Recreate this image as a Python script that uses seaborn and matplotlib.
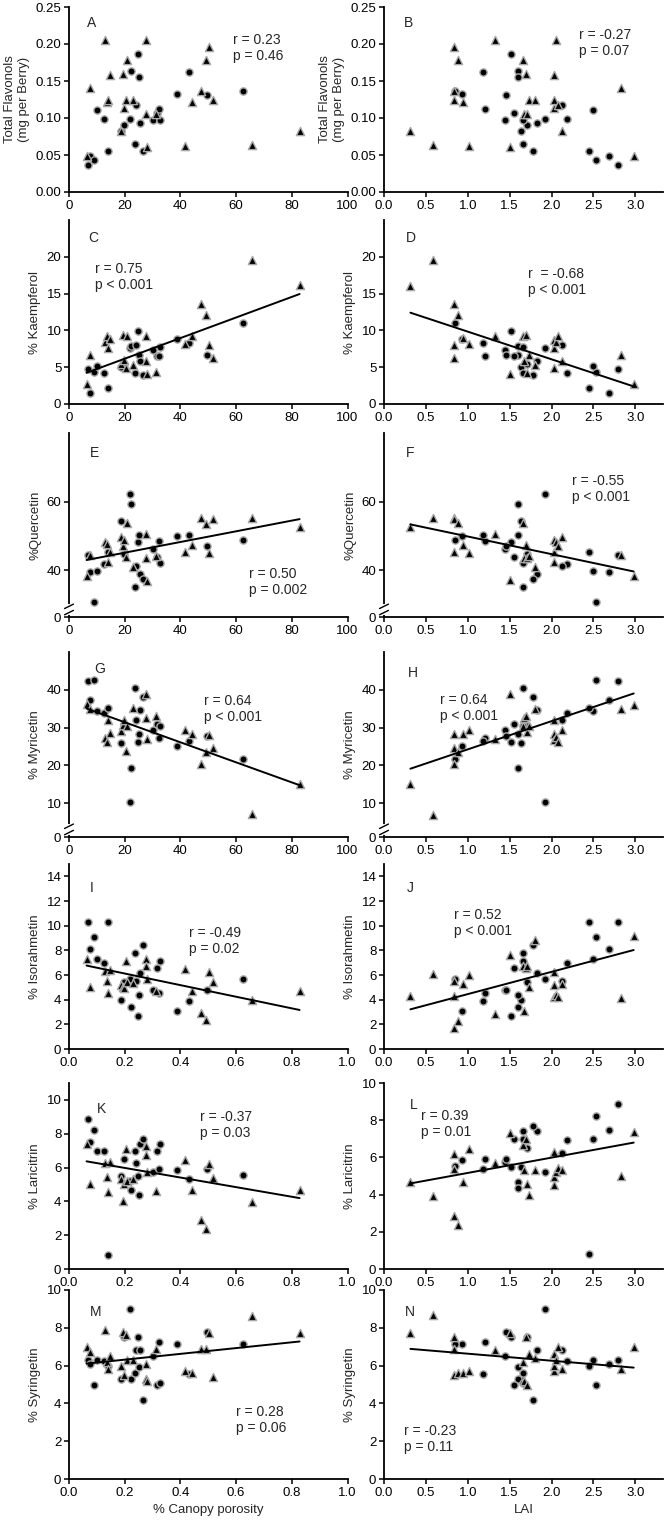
import numpy as np
import pandas as pd
import seaborn as sns
import matplotlib.pyplot as plt
from matplotlib.ticker import FormatStrFormatter

# ---- filled circles: one vine per position, same order in every array
por_circ = [6.9, 7.5, 9.0, 9.9, 12.6, 13.9, 18.6, 19.8, 21.9, 22.2, 23.6, 24.2,
            24.6, 25.0, 25.5, 26.5, 30.2, 31.7, 32.3, 32.5, 38.6, 43.0, 49.5, 62.5]
lai_circ = [2.79, 2.69, 2.535, 2.496, 2.19, 2.45, 1.634, 1.705, 1.92, 1.598, 1.661, 2.126,
            1.512, 1.598, 1.83, 1.78, 1.445, 1.555, 1.209, 1.661, 0.925, 1.177, 1.461, 0.843]
flav_circ = [0.037, 0.048, 0.043, 0.111, 0.099, 0.055, 0.082, 0.091, 0.099, 0.163, 0.065, 0.118,
             0.186, 0.156, 0.093, 0.055, 0.097, 0.107, 0.112, 0.097, 0.133, 0.162, 0.131, 0.136]
kaem_circ = [4.7, 1.5, 4.3, 5.2, 4.2, 2.2, 5.0, 5.4, 7.6, 7.9, 4.2, 8.0,
             9.9, 6.7, 5.9, 4.0, 7.4, 6.5, 6.5, 7.8, 8.8, 8.3, 6.7, 11.0]
quer_circ = [44.5, 39.4, 30.9, 39.8, 41.7, 45.4, 54.4, 44.8, 62.3, 59.3, 35.0, 41.3,
             48.3, 50.4, 39.0, 37.6, 46.3, 44.0, 48.5, 42.1, 50.0, 50.4, 47.1, 48.9]
myr_circ = [42.2, 37.4, 42.6, 34.4, 33.9, 35.3, 25.8, 30.4, 10.2, 19.4, 40.4, 32.1,
            26.1, 28.2, 34.7, 38.1, 29.3, 30.9, 27.3, 30.5, 25.1, 26.5, 27.7, 21.7]
iso_circ = [10.3, 8.1, 9.05, 7.3, 7.0, 10.3, 4.0, 5.4, 5.7, 3.4, 7.8, 5.5,
            2.7, 4.4, 6.2, 8.4, 4.75, 6.6, 4.55, 7.1, 3.1, 3.9, 4.8, 5.7]
lar_circ = [8.85, 7.5, 8.2, 7.0, 6.95, 0.8, 5.5, 6.5, 5.2, 4.7, 7.0, 6.25,
            5.5, 4.35, 7.4, 7.7, 5.75, 7.0, 5.9, 7.4, 5.85, 5.35, 5.9, 5.55]
syr_circ = [6.3, 6.1, 5.0, 6.3, 6.25, 6.0, 5.3, 7.5, 9.0, 5.3, 5.6, 6.85,
            7.5, 5.95, 6.8, 4.2, 6.5, 5.0, 7.25, 5.1, 7.15, 5.55, 7.8, 7.15]

# ---- triangles (left column)
por_tri = [6.3, 7.6, 13.1, 13.5, 14.1, 14.7, 18.6, 19.3, 19.8, 20.5, 20.7, 22.9,
           27.5, 27.5, 27.9, 31.1, 41.6, 44.2, 47.4, 49.1, 50.4, 51.6, 65.6, 82.8]
flav_tri_por = [0.048, 0.141, 0.206, 0.121, 0.124, 0.158, 0.083, 0.160, 0.114, 0.124, 0.179, 0.124,
                0.205, 0.106, 0.061, 0.106, 0.062, 0.122, 0.136, 0.179, 0.196, 0.124, 0.064, 0.083]
kaem_tri_por = [2.7, 6.7, 8.4, 9.3, 7.6, 8.85, 5.4, 9.4, 6.0, 4.9, 9.2, 5.3,
                9.3, 5.8, 4.1, 4.3, 8.2, 9.2, 13.6, 12.1, 8.0, 6.2, 19.6, 16.2]
quer_tri_por = [38.4, 44.6, 48.2, 47.8, 42.4, 45.3, 49.6, 47.2, 48.8, 43.8, 53.9, 41.0,
                50.6, 43.6, 36.9, 44.2, 45.3, 47.5, 55.2, 53.5, 45.1, 54.9, 55.2, 52.7]
myr_tri_por = [36.1, 34.8, 27.1, 26.2, 31.9, 28.6, 29.1, 30.6, 31.9, 23.8, 30.4, 35.2,
               38.9, 32.6, 26.9, 33.0, 29.3, 28.2, 20.3, 23.6, 28.0, 24.5, 7.2, 15.1]
iso_tri_por = [7.3, 5.0, 6.3, 5.5, 4.54, 6.43, 5.2, 5.0, 4.95, 7.1, 5.4, 5.35,
               7.3, 6.7, 5.7, 4.7, 6.5, 4.68, 2.92, 2.38, 6.27, 5.4, 4.0, 4.73]
lar_tri_por = [7.37, 5.0, 6.25, 5.45, 4.55, 6.32, 5.3, 4.0, 5.0, 7.07, 5.2, 5.3,
               7.27, 6.72, 5.73, 4.6, 6.44, 4.66, 2.89, 2.39, 6.2, 5.41, 3.95, 4.7]
syr_tri_por = [7.0, 6.7, 7.9, 6.2, 5.8, 6.5, 6.0, 7.8, 5.5, 7.6, 6.3, 6.3,
               5.3, 6.1, 5.2, 6.9, 5.7, 5.6, 6.9, 6.9, 7.7, 5.4, 8.6, 7.7]

# ---- triangles (right column)
lai_tri = [0.315, 0.579, 0.835, 0.835, 0.835, 0.886, 0.94, 1.012, 1.319, 1.504, 1.657, 1.665,
           1.69, 1.705, 1.732, 1.807, 2.028, 2.028, 2.028, 2.047, 2.075, 2.122, 2.83, 2.98]
flav_tri_lai = [0.083, 0.064, 0.196, 0.124, 0.136, 0.179, 0.122, 0.062, 0.205, 0.061, 0.179, 0.106,
                0.159, 0.106, 0.124, 0.124, 0.158, 0.124, 0.114, 0.206, 0.118, 0.083, 0.141, 0.048]
kaem_tri_lai = [16.0, 19.6, 13.6, 8.0, 6.2, 12.1, 9.0, 8.2, 9.3, 4.1, 9.3, 5.8,
                9.4, 4.2, 6.7, 5.3, 8.7, 7.6, 4.9, 8.4, 9.3, 5.9, 6.7, 2.7]
quer_tri_lai = [52.7, 55.2, 55.2, 45.3, 54.9, 53.7, 47.5, 45.1, 50.6, 37.1, 53.9, 43.6,
                47.4, 43.7, 44.2, 41.0, 48.8, 45.3, 42.4, 48.2, 47.2, 49.6, 44.6, 38.4]
myr_tri_lai = [15.1, 6.9, 28.2, 24.5, 20.3, 23.6, 28.2, 29.3, 26.9, 38.9, 30.4, 32.6,
               33.0, 28.9, 30.4, 35.0, 31.9, 28.4, 26.8, 27.5, 26.2, 29.3, 34.8, 36.0]
iso_tri_lai = [4.27, 6.08, 5.5, 4.3, 1.7, 2.3, 5.3, 6.0, 2.86, 7.65, 6.76, 3.05,
               6.6, 6.76, 5.0, 8.86, 6.27, 5.2, 4.2, 4.4, 4.2, 5.3, 4.1, 9.16]
lar_tri_lai = [4.67, 3.94, 6.2, 5.37, 2.86, 2.37, 4.67, 6.44, 5.7, 7.29, 6.69, 5.3,
               7.0, 4.57, 3.98, 5.3, 6.29, 4.94, 4.52, 5.2, 5.44, 5.3, 4.99, 7.34]
syr_tri_lai = [7.7, 8.7, 7.5, 5.5, 6.9, 5.6, 5.6, 5.7, 6.8, 7.7, 6.2, 5.2,
               7.5, 5.0, 6.6, 6.4, 6.6, 5.7, 6.0, 6.3, 7.0, 5.8, 5.8, 7.0]

ylabels = ["Total Flavonols\n(mg per Berry)", "% Kaempferol", "%Quercetin", "% Myricetin",
           "% Isorahmetin", "% Laricitrin", "% Syringetin"]
letters = [("A", "B"), ("C", "D"), ("E", "F"), ("G", "H"), ("I", "J"), ("K", "L"), ("M", "N")]
stats = [("r = 0.23\np = 0.46", "r = -0.27\np = 0.07"),
         ("r = 0.75\np < 0.001", "r  = -0.68\np < 0.001"),
         ("r = 0.50\np = 0.002", "r = -0.55\np < 0.001"),
         ("r = 0.64\np < 0.001", "r = 0.64\np < 0.001"),
         ("r = -0.49\np = 0.02", "r = 0.52\np < 0.001"),
         ("r = -0.37\np = 0.03", "r = 0.39\np = 0.01"),
         ("r = 0.28\np = 0.06", "r = -0.23\np = 0.11")]

circ_y = [flav_circ, kaem_circ, quer_circ, myr_circ, iso_circ, lar_circ, syr_circ]
tri_y_por = [flav_tri_por, kaem_tri_por, quer_tri_por, myr_tri_por, iso_tri_por, lar_tri_por, syr_tri_por]
tri_y_lai = [flav_tri_lai, kaem_tri_lai, quer_tri_lai, myr_tri_lai, iso_tri_lai, lar_tri_lai, syr_tri_lai]

# layout (pixels of the 666 x 1526 figure)
W, H = 666, 1526
rows_px = [(7, 192), (220, 404), (433, 617), (652, 837), (864, 1049), (1083, 1269), (1290, 1479)]
col_px = [(69, 278.5), (384, 279)]

# y axis setup per row: (ylim, ticks, labels)
yspec = [
    ((0, 0.25), [0, 0.05, 0.10, 0.15, 0.20, 0.25], None),
    ((0, 25), [0, 5, 10, 15, 20], None),
    ((26.4, 80), [26.4, 40, 60], ["0", "40", "60"]),
    ((1.0, 50), [1.0, 10, 20, 30, 40], ["0", "10", "20", "30", "40"]),
    ((0, 15), [0, 2, 4, 6, 8, 10, 12, 14], None),
    (None, None, None),
    ((0, 10), [0, 2, 4, 6, 8, 10], None),
]

letter_pos = [((0.065, 0.95), (0.07, 0.95)), ((0.07, 0.94), (0.08, 0.94)),
              ((0.075, 0.93), (0.08, 0.93)), ((0.09, 0.945), (0.085, 0.925)),
              ((0.075, 0.91), (0.08, 0.91)), ((0.1, 0.9), (0.093, 0.92)),
              ((0.075, 0.92), (0.075, 0.92))]
stat_pos = [((0.59, 0.86), (0.70, 0.885)), ((0.094, 0.77), (0.516, 0.745)),
            ((0.648, 0.27), (0.674, 0.777)), ((0.486, 0.773), (0.2, 0.778)),
            ((0.43, 0.665), (0.25, 0.76)), ((0.47, 0.855), (0.133, 0.86)),
            ((0.6, 0.39), (0.07, 0.29))]

sns.set_style("ticks")
plt.rcParams['font.family'] = ['Liberation Sans', 'DejaVu Sans']
plt.rcParams['font.size'] = 9.5

fig = plt.figure(figsize=(W / 100, H / 100), dpi=100)

edge = '#a8a8a8'


def axis_break(ax):
    ax.plot([0, 0], [0.022, 0.058], color='white', lw=3, transform=ax.transAxes,
            clip_on=False, zorder=6)
    kw = dict(transform=ax.transAxes, clip_on=False, color='black', lw=1.0, zorder=7)
    ax.plot([-0.016, 0.016], [0.012, 0.036], **kw)
    ax.plot([-0.016, 0.016], [0.046, 0.070], **kw)


for r in range(7):
    top, bot = rows_px[r]
    for c in range(2):
        left, width = col_px[c]
        ax = fig.add_axes([left / W, 1 - bot / H, width / W, (bot - top) / H])

        if c == 0:
            scale = 1.0 if r < 4 else 0.01
            xc = [v * scale for v in por_circ]
            xt = [v * scale for v in por_tri]
            yt = tri_y_por[r]
        else:
            xc = lai_circ
            xt = lai_tri
            yt = tri_y_lai[r]

        dc = pd.DataFrame({"x": xc, "y": circ_y[r]})
        dt = pd.DataFrame({"x": xt, "y": yt})

        sns.scatterplot(data=dc, x="x", y="y", marker="o", color="black", edgecolor=edge,
                        linewidth=1.0, s=27, ax=ax, legend=False, zorder=3)
        sns.scatterplot(data=dt, x="x", y="y", marker="^", color="black", edgecolor=edge,
                        linewidth=1.0, s=35, ax=ax, legend=False, zorder=3)

        if r > 0:
            both = pd.concat([dc, dt], ignore_index=True)
            sns.regplot(data=both, x="x", y="y", scatter=False, ci=None, ax=ax,
                        color="black", line_kws={"lw": 1.4, "zorder": 4})

        # x axis
        if c == 0:
            if r < 4:
                ax.set_xlim(0, 100)
                ax.set_xticks([0, 20, 40, 60, 80, 100])
            else:
                ax.set_xlim(0, 1.0)
                ax.set_xticks([0.0, 0.2, 0.4, 0.6, 0.8, 1.0])
                ax.xaxis.set_major_formatter(FormatStrFormatter('%.1f'))
        else:
            ax.set_xlim(0, 3.33)
            ax.set_xticks([0.0, 0.5, 1.0, 1.5, 2.0, 2.5, 3.0])
            ax.xaxis.set_major_formatter(FormatStrFormatter('%.1f'))

        # y axis
        if r == 5:
            if c == 0:
                ax.set_ylim(0, 11)
            else:
                ax.set_ylim(0, 10)
            ax.set_yticks([0, 2, 4, 6, 8, 10])
        else:
            ylim, ticks, labs = yspec[r]
            ax.set_ylim(*ylim)
            if labs is None:
                ax.set_yticks(ticks)
            else:
                ax.set_yticks(ticks, labels=labs)
        if r == 0:
            ax.yaxis.set_major_formatter(FormatStrFormatter('%.2f'))
        if r in (2, 3):
            axis_break(ax)

        ax.set_ylabel(ylabels[r], fontsize=9.5)
        if r == 6:
            ax.set_xlabel("% Canopy porosity" if c == 0 else "LAI", fontsize=9.5)
        else:
            ax.set_xlabel("")

        for s in ["top", "right"]:
            ax.spines[s].set_visible(False)
        for s in ["left", "bottom"]:
            ax.spines[s].set_linewidth(1.3)
            ax.spines[s].set_color("black")
        ax.tick_params(direction="out", length=3.5, width=1.1, labelsize=9.5,
                       colors="black", pad=2)

        lx, ly = letter_pos[r][c]
        ax.text(lx, ly, letters[r][c], transform=ax.transAxes, fontsize=10,
                ha="left", va="top")
        sx, sy = stat_pos[r][c]
        ax.text(sx, sy, stats[r][c], transform=ax.transAxes, fontsize=10,
                ha="left", va="top", linespacing=1.15)

fig.savefig("out.png", dpi=100)
